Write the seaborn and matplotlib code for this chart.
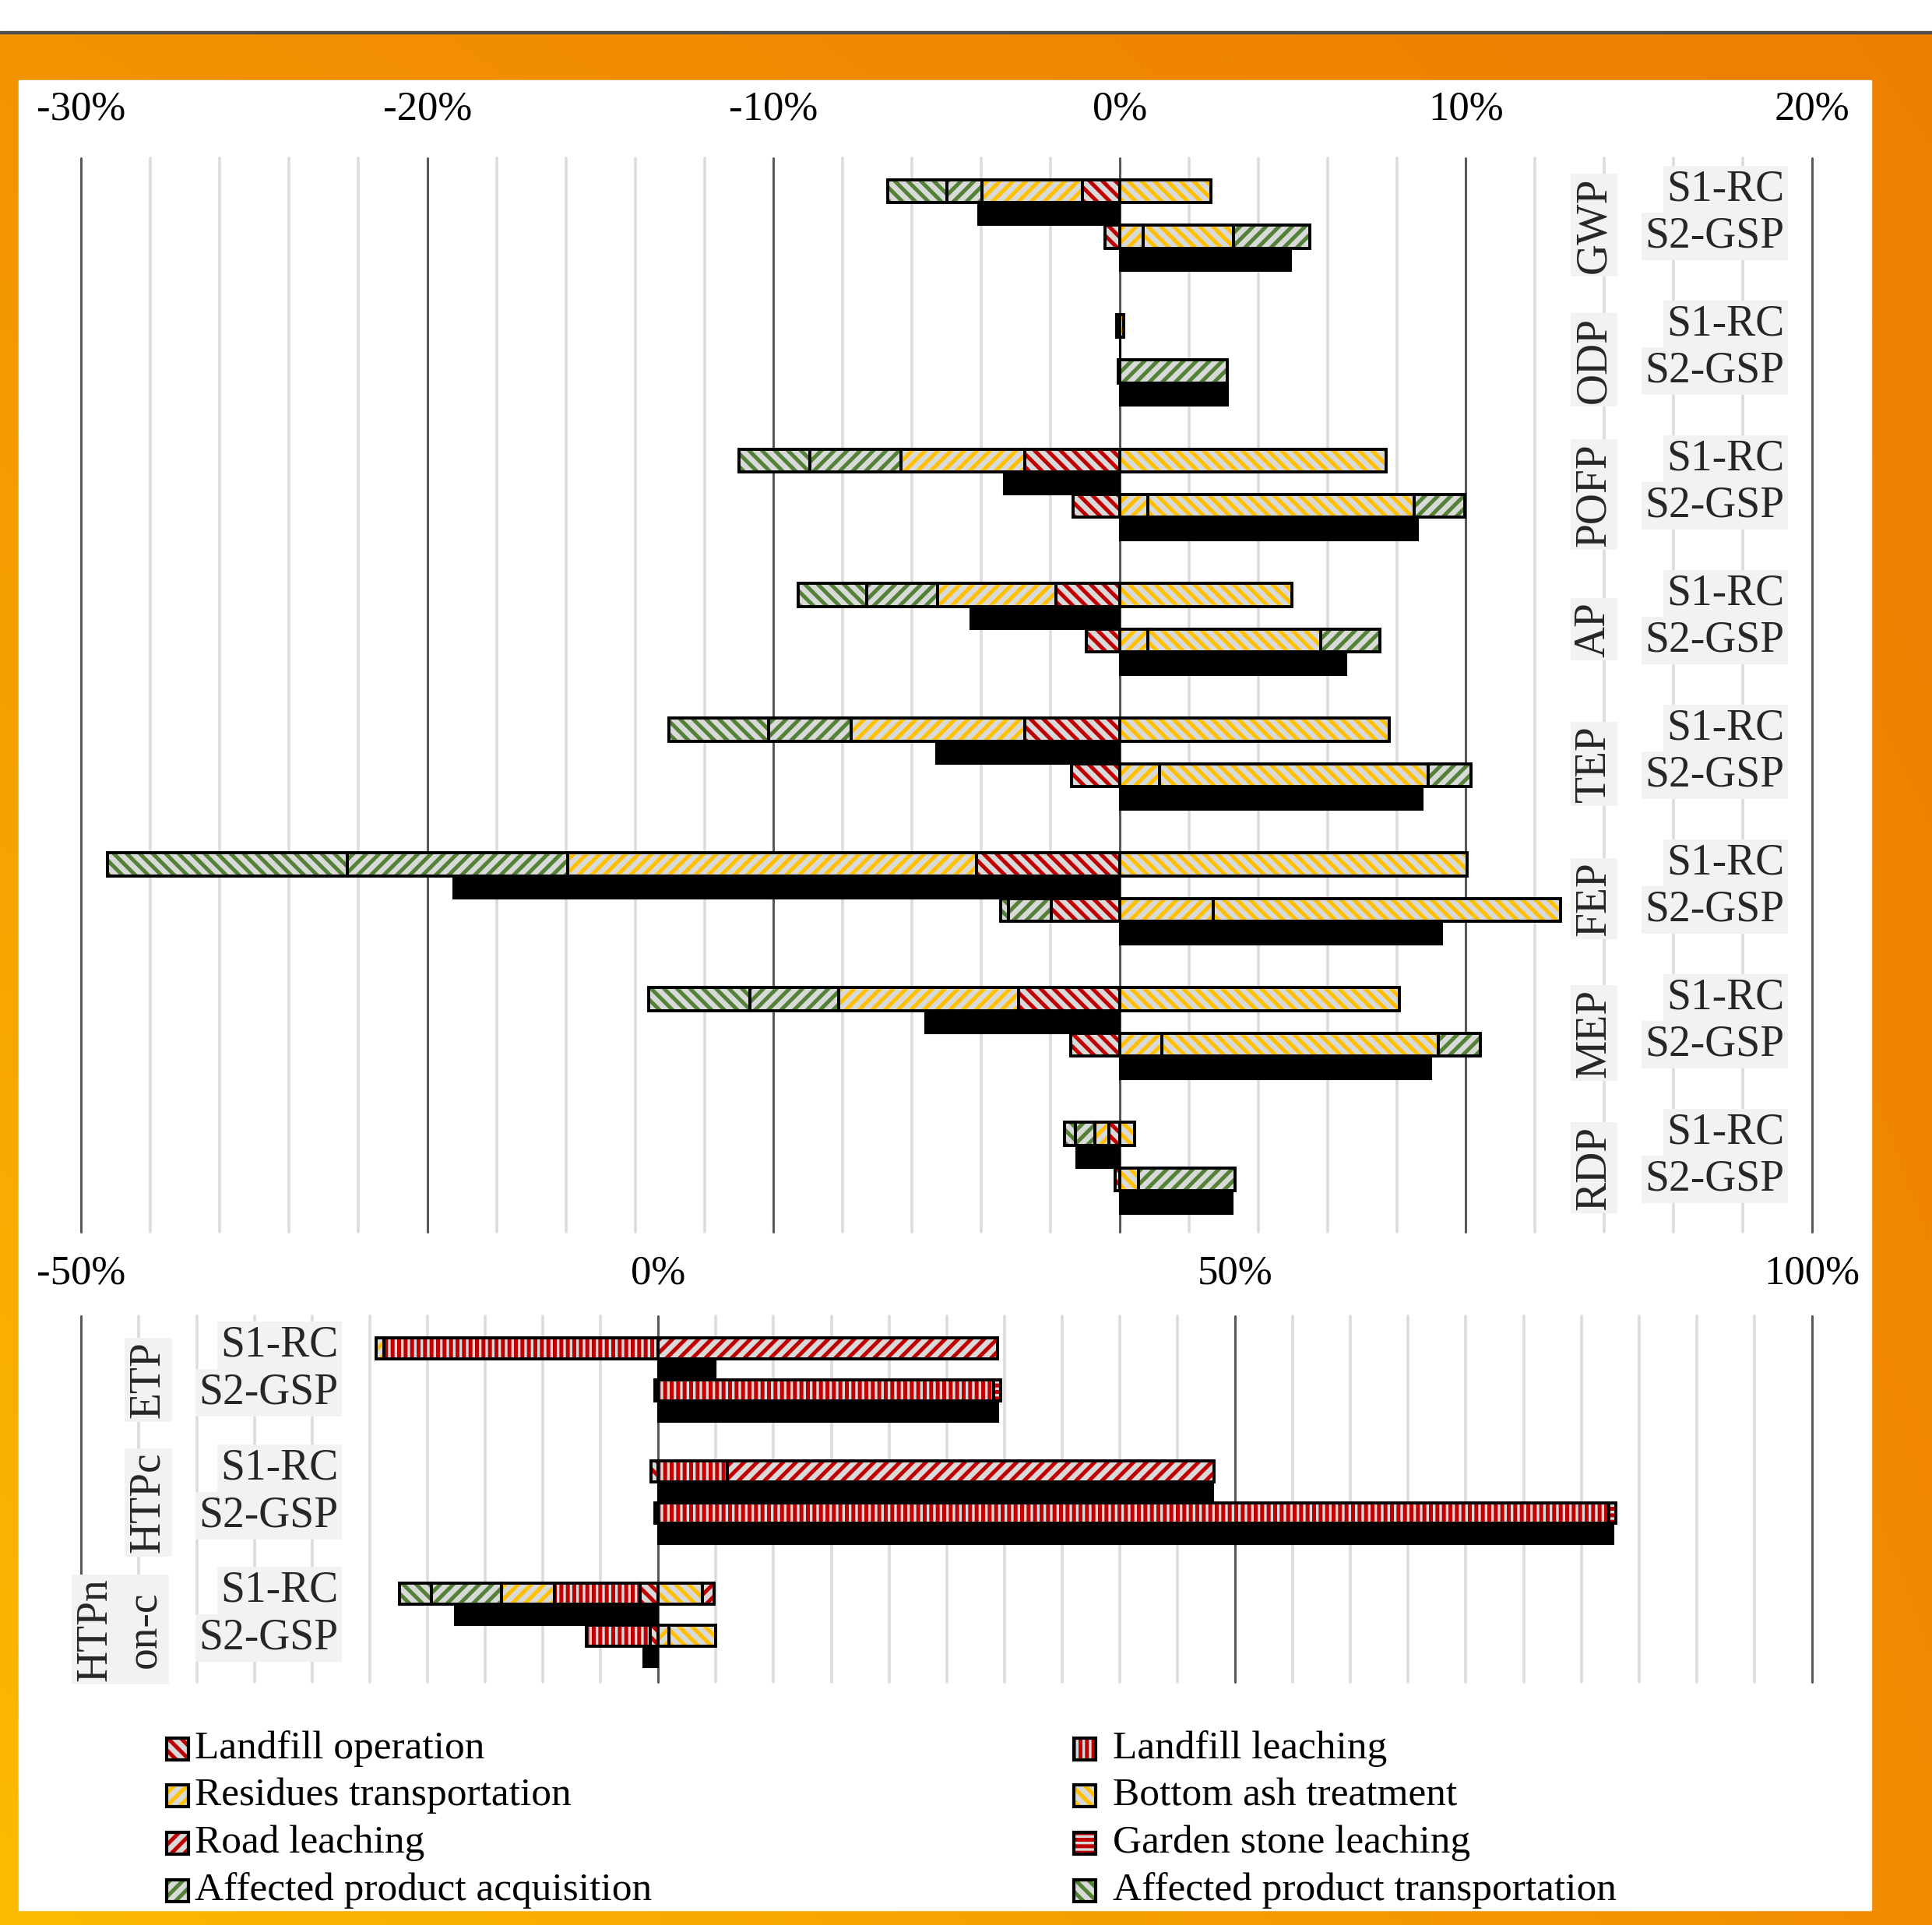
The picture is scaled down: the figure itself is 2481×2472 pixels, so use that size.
import numpy as np
import matplotlib.pyplot as plt
import seaborn as sns
from matplotlib.patches import Rectangle

sns.set_theme(style='white')
plt.rcParams['font.family'] = ['Liberation Serif', 'DejaVu Serif']
plt.rcParams['hatch.linewidth'] = 3.6

W, H = 2481, 2472

SERIES = ['Landfill operation', 'Landfill leaching', 'Residues transportation',
          'Bottom ash treatment', 'Road leaching', 'Garden stone leaching',
          'Affected product acquisition', 'Affected product transportation']
COLORS = ['#C00000', '#C00000', '#FFC000', '#FFC000',
          '#C00000', '#C00000', '#548235', '#548235']
HATCHES = ['\\\\', '||', '//', '\\\\', '//', '--', '//', '\\\\']
HATCH_BG = '#D9D9D9'

SCENARIOS = ['S1-RC', 'S2-GSP']
TOP_CATS = ['GWP', 'ODP', 'POFP', 'AP', 'TEP', 'FEP', 'MEP', 'RDP']
BOT_CATS = ['ETP', 'HTPc', 'HTPn\non-c']

# contributions in %, top panel (one value per TOP_CATS)
top_s1 = {
    'Landfill operation':              [-1.07, -0.08, -2.74, -1.85, -2.74, -4.13, -2.92, -0.32],
    'Residues transportation':         [-2.92, 0.00, -3.59, -3.42, -5.02, -11.81, -5.20, -0.39],
    'Bottom ash treatment':            [2.63, 0.12, 7.69, 4.98, 7.79, 10.04, 8.08, 0.43],
    'Affected product acquisition':    [-1.00, 0.00, -2.63, -2.03, -2.38, -6.37, -2.56, -0.57],
    'Affected product transportation': [-1.71, 0.00, -2.03, -1.99, -2.88, -6.94, -2.92, -0.32],
}
top_s2 = {
    'Landfill operation':              [-0.43, -0.05, -1.35, -0.96, -1.39, -1.99, -1.42, -0.14],
    'Residues transportation':         [0.68, 0.00, 0.82, 0.82, 1.14, 2.70, 1.21, 0.00],
    'Bottom ash treatment':            [2.60, 0.00, 7.69, 4.98, 7.76, 10.04, 8.00, 0.53],
    'Affected product acquisition':    [2.20, 3.10, 1.46, 1.71, 1.25, -1.23, 1.21, 2.81],
    'Affected product transportation': [0.00, 0.00, 0.00, 0.00, 0.00, -0.22, 0.00, 0.00],
}
top_s1_net = [-4.09, 0.02, -3.35, -4.31, -5.30, -19.25, -5.62, -1.25]
top_s2_net = [4.95, 3.12, 8.61, 6.55, 8.75, 9.32, 9.00, 3.27]

# bottom panel (one value per BOT_CATS)
bot_s1 = {
    'Landfill operation':              [0.00, -0.60, -1.60],
    'Landfill leaching':               [-23.8, 6.0, -7.4],
    'Residues transportation':         [-0.64, 0.00, -4.55],
    'Bottom ash treatment':            [0.00, 0.00, 3.85],
    'Road leaching':                   [29.4, 42.2, 0.96],
    'Affected product acquisition':    [0.00, 0.00, -6.1],
    'Affected product transportation': [0.00, 0.00, -2.8],
}
bot_s2 = {
    'Landfill operation':              [-0.30, -0.30, -0.70],
    'Landfill leaching':               [29.1, 82.4, -5.5],
    'Residues transportation':         [0.00, 0.00, 0.90],
    'Bottom ash treatment':            [0.00, 0.00, 4.10],
    'Garden stone leaching':           [0.60, 0.60, 0.00],
}
bot_s1_net = [5.0, 48.1, -17.6]
bot_s2_net = [29.5, 82.8, -1.3]

TOP_TICKS = [-30, -20, -10, 0, 10, 20]
BOT_TICKS = [-50, 0, 50, 100]


def fx(px):
    return px / W


def fy(py):
    return 1 - py / H


def draw_stack(ax, y, data, i):
    pos, neg = 0.0, 0.0
    for name, col, hat in zip(SERIES, COLORS, HATCHES):
        v = data.get(name, [0] * (i + 1))[i]
        if v == 0:
            continue
        left = pos if v > 0 else neg
        ax.barh(y, v, left=left, height=1.0, color=HATCH_BG, edgecolor=col,
                hatch=hat, linewidth=0, zorder=2)
        ax.barh(y, v, left=left, height=1.0, fill=False, edgecolor='black',
                linewidth=2.8, zorder=3)
        if v > 0:
            pos += v
        else:
            neg += v


def draw_panel(ax, cats, s1, s2, n1, n2, period):
    for i in range(len(cats)):
        y0 = i * period
        draw_stack(ax, y0, s1, i)
        ax.barh(y0 + 1, n1[i], height=1.0, color='black', edgecolor='black',
                linewidth=1.5, zorder=2)
        draw_stack(ax, y0 + 2, s2, i)
        ax.barh(y0 + 3, n2[i], height=1.0, color='black', edgecolor='black',
                linewidth=1.5, zorder=2)


def grid(ax, lo, hi, minor, major):
    for x in np.arange(lo, hi + 0.01, minor):
        if abs(x % major) < 1e-6:
            ax.axvline(x, color='#595959', lw=2.2, zorder=0, clip_on=False)
        else:
            ax.axvline(x, color='#DCDCDC', lw=2.6, zorder=0, clip_on=False)


fig = plt.figure(figsize=(W / 100, H / 100), dpi=100)

# orange gradient frame
bg = fig.add_axes([0, 0, 1, 1], zorder=-10)
tl, tr = np.array([243, 146, 0]), np.array([238, 126, 0])
bl, br = np.array([252, 187, 0]), np.array([242, 140, 0])
u = np.linspace(0, 1, 300)[None, :, None]
v = np.linspace(0, 1, 300)[:, None, None]
img = (tl * (1 - u) * (1 - v) + tr * u * (1 - v) + bl * (1 - u) * v + br * u * v) / 255
bg.imshow(img, extent=[0, 1, 0, 1], aspect='auto')
bg.add_patch(Rectangle((0, fy(40)), 1, 1 - fy(40), color='white', zorder=2))
bg.add_patch(Rectangle((0, fy(43)), 1, fy(40) - fy(43), color='#4D4D4D', zorder=2))
bg.add_patch(Rectangle((fx(24), fy(2453)), fx(2403) - fx(24), fy(103) - fy(2453),
                       color='white', zorder=2))
bg.set_xlim(0, 1)
bg.set_ylim(0, 1)
bg.axis('off')

lab_kw = dict(fontsize=40, zorder=6,
              bbox=dict(boxstyle='square,pad=0.08', fc='#F2F2F2', ec='none'))

# ---- top panel ----
P_TOP = 5.9
ax1 = fig.add_axes([fx(104.4), fy(1582), fx(2327) - fx(104.4), fy(202.5) - fy(1582)])
ax1.set_facecolor('none')
draw_panel(ax1, TOP_CATS, top_s1, top_s2, top_s1_net, top_s2_net, P_TOP)
ax1.set_xlim(-30, 20)
ax1.set_ylim(45.6, -1.46)
grid(ax1, -30, 20, 2, 10)
for i, c in enumerate(TOP_CATS):
    y0 = i * P_TOP
    ax1.text(13.7, y0 + 1.5, c, rotation=90, ha='center', va='center', **lab_kw)
    ax1.text(19.2, y0 - 0.05, SCENARIOS[0], ha='right', va='center', **lab_kw)
    ax1.text(19.2, y0 + 2.0, SCENARIOS[1], ha='right', va='center', **lab_kw)
ax1.set_xticks(TOP_TICKS)
ax1.set_xticklabels([f'{t}%' for t in TOP_TICKS])
ax1.set_yticks([])

# ---- bottom panel ----
P_BOT = 5.87
ax2 = fig.add_axes([fx(104.4), fy(2160), fx(2327) - fx(104.4), fy(1690) - fy(2160)])
ax2.set_facecolor('none')
draw_panel(ax2, BOT_CATS, bot_s1, bot_s2, bot_s1_net, bot_s2_net, P_BOT)
ax2.set_xlim(-50, 100)
ax2.set_ylim(15.96, -1.56)
grid(ax2, -50, 100, 5, 50)
for i, c in enumerate(BOT_CATS):
    y0 = i * P_BOT
    if '\n' in c:
        ax2.text(-46.6, y0 + 1.7, c, rotation=90, ha='center', va='center',
                 linespacing=1.3, **lab_kw)
    else:
        ax2.text(-44.2, y0 + 1.5, c, rotation=90, ha='center', va='center', **lab_kw)
    ax2.text(-27.7, y0 - 0.15, SCENARIOS[0], ha='right', va='center', **lab_kw)
    ax2.text(-27.7, y0 + 2.12, SCENARIOS[1], ha='right', va='center', **lab_kw)
ax2.set_xticks(BOT_TICKS)
ax2.set_xticklabels([f'{t}%' for t in BOT_TICKS])
ax2.set_yticks([])

for ax, pad in ((ax1, 27), (ax2, 22)):
    sns.despine(ax=ax, left=True, bottom=True, right=True, top=True)
    ax.tick_params(axis='x', top=True, labeltop=True, bottom=False, labelbottom=False,
                   length=0, pad=pad, labelsize=38, labelcolor='black')
    ax.grid(False)

# ---- legend (two columns, row-major) ----
rows_y = [2246, 2306, 2367, 2428]
col_x = [(214, 250), (1379, 1429)]
for k, (name, col, hat) in enumerate(zip(SERIES, COLORS, HATCHES)):
    r, cidx = divmod(k, 2)
    hx, tx = col_x[cidx]
    yc = rows_y[r]
    fig.add_artist(Rectangle((fx(hx), fy(yc + 14)), fx(28), 28 / H,
                             transform=fig.transFigure, facecolor=HATCH_BG,
                             edgecolor=col, hatch=hat, linewidth=0, zorder=5))
    fig.add_artist(Rectangle((fx(hx), fy(yc + 14)), fx(28), 28 / H,
                             transform=fig.transFigure, fill=False,
                             edgecolor='black', linewidth=3, zorder=6))
    fig.text(fx(tx), fy(yc), name, ha='left', va='center', fontsize=37, color='black')

fig.savefig('out.png', dpi=100)
